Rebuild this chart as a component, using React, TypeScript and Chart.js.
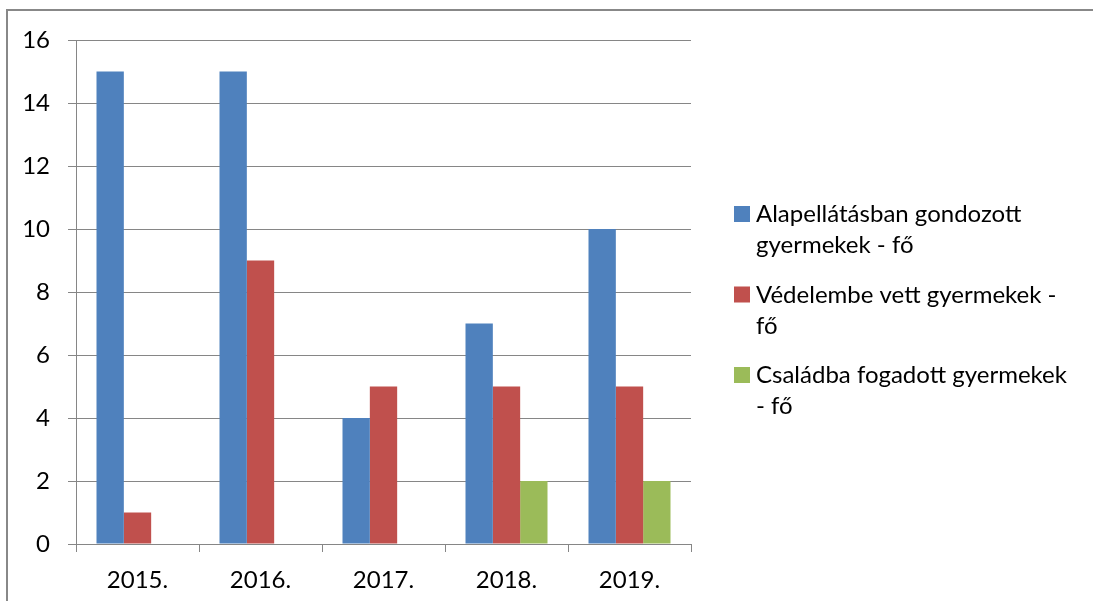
import React, { useEffect, useRef } from "react";
import { Chart, registerables } from "chart.js";

Chart.register(...registerables);

const categories = ["2015.", "2016.", "2017.", "2018.", "2019."];
const alapellatas = [15, 15, 4, 7, 10];
const vedelembe = [1, 9, 5, 5, 5];
const csaladba = [0, 0, 0, 2, 2];
const seriesNames = [
  "Alapellátásban gondozott gyermekek - fő",
  "Védelembe vett gyermekek - fő",
  "Családba fogadott gyermekek - fő",
];
const legendLines = [
  ["Alapellátásban gondozott", "gyermekek - fő"],
  ["Védelembe vett gyermekek -", "fő"],
  ["Családba fogadott gyermekek", "- fő"],
];
const colors = ["#4F81BD", "#C0504D", "#9BBB59"];
const yTicks = [0, 2, 4, 6, 8, 10, 12, 14, 16];

const FONT = "Lato, 'Open Sans', sans-serif";
const GRID = "#868686";

const legendPlugin = {
  id: "sideLegend",
  afterDraw(chart: any) {
    const ctx = chart.ctx;
    ctx.save();
    ctx.font = `24px ${FONT}`;
    ctx.fillStyle = "#000";
    ctx.textAlign = "left";
    ctx.textBaseline = "alphabetic";
    legendLines.forEach((lines, i) => {
      const base = 222 + i * 80.5;
      ctx.fillStyle = colors[i];
      ctx.fillRect(734, base - 16, 16, 16);
      ctx.fillStyle = "#000";
      lines.forEach((t, j) => ctx.fillText(t, 756, base + j * 31));
    });
    ctx.restore();
  },
};

export default function App() {
  const ref = useRef<HTMLCanvasElement | null>(null);
  useEffect(() => {
    if (!ref.current) return;
    const chart = new Chart(ref.current, {
      type: "bar",
      data: {
        labels: categories,
        datasets: [alapellatas, vedelembe, csaladba].map((d, i) => ({
          label: seriesNames[i],
          data: d,
          backgroundColor: colors[i],
          borderWidth: 0,
          categoryPercentage: 3 / 4.5,
          barPercentage: 1,
        })),
      },
      options: {
        animation: false,
        responsive: false,
        maintainAspectRatio: false,
        layout: { padding: { left: 0, right: 402, top: 40, bottom: 0 } },
        plugins: { legend: { display: false }, tooltip: { enabled: false } },
        scales: {
          x: {
            offset: true,
            afterFit: (s: any) => {
              s.height = 57;
            },
            grid: {
              offset: true,
              drawOnChartArea: false,
              drawTicks: true,
              tickLength: 8,
              color: GRID,
            },
            border: { display: true, color: GRID },
            ticks: {
              color: "#000",
              font: { family: FONT, size: 24 },
              padding: 14,
              maxRotation: 0,
            },
          },
          y: {
            min: 0,
            max: 16,
            afterFit: (s: any) => {
              s.width = 76;
            },
            afterBuildTicks: (s: any) => {
              s.ticks = yTicks.map((v) => ({ value: v }));
            },
            grid: { color: GRID, drawTicks: true, tickLength: 8 },
            border: { display: true, color: GRID },
            ticks: {
              color: "#000",
              font: { family: FONT, size: 24 },
              padding: 18,
            },
          },
        },
      },
      plugins: [legendPlugin],
    });
    return () => chart.destroy();
  }, []);
  return (
    <div
      style={{
        position: "fixed",
        left: 0,
        top: 0,
        width: 1093,
        height: 601,
        overflow: "hidden",
        background: "#fff",
      }}
    >
      <div
        style={{
          position: "absolute",
          left: 6,
          top: 9,
          width: 1200,
          height: 700,
          border: "2px solid #888",
        }}
      />
      <canvas
        ref={ref}
        width={1093}
        height={601}
        style={{ position: "absolute", left: 0, top: 0, width: 1093, height: 601 }}
      />
    </div>
  );
}
